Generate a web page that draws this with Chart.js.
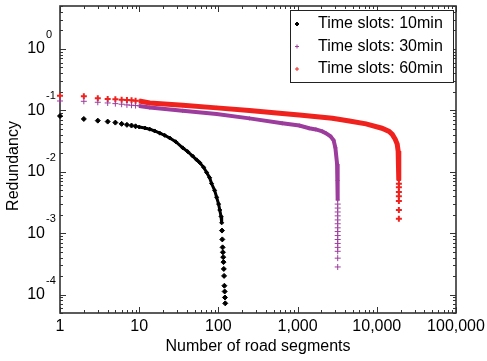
<!DOCTYPE html>
<html>
<head>
<meta charset="utf-8">
<script src="https://cdn.jsdelivr.net/npm/chart.js@4/dist/chart.umd.min.js"></script>
<style>
  body { margin: 0; background: #fff; }
  #wrap { width: 487px; height: 361px; }
</style>
</head>
<body>
<div id="wrap"><canvas id="chart" width="487" height="361"></canvas></div>
<script>
// Values: [number of road segments, redundancy]
const seriesLabels = ['Time slots: 10min', 'Time slots: 30min', 'Time slots: 60min'];

// 10min - sparse points at the start, dense curve, sparse tail
const black10Start = [[1, 0.0808], [2, 0.0723], [3, 0.0679], [4, 0.0655], [5, 0.0631],
  [6, 0.0602], [7, 0.0580], [8, 0.0565], [9, 0.0549]];
const black10Band = [[10, 0.0535], [11.8, 0.0515], [13.6, 0.0493], [15.7, 0.0461], [18.2, 0.0425],
  [21, 0.0391], [24.3, 0.0354], [28.9, 0.0308], [35.4, 0.0245], [40.9, 0.0213], [47.3, 0.018],
  [53.1, 0.0156], [58, 0.0141], [65.1, 0.0118], [71, 0.00975], [77.5, 0.008], [82, 0.00643],
  [89.6, 0.00497], [95, 0.00384], [100.6, 0.00297], [104, 0.00238], [108, 0.00187], [110, 0.00147]];
const black10Tail = [[111, 0.0011], [112, 0.00079], [113, 0.000586], [114, 0.000488], [115, 0.000406],
  [116, 0.000337], [117, 0.000261], [118, 0.000201], [119, 0.000139], [120, 0.000112],
  [121, 0.0000895], [122, 0.0000718]];

// 30min
const purple30Start = [[1, 0.1419], [2, 0.1403], [3, 0.1352], [4, 0.1318], [5, 0.1285],
  [6, 0.1257], [7, 0.1225], [8, 0.121], [9, 0.1194]];
const purple30Band = [[10, 0.118], [13.6, 0.111], [35.4, 0.0982], [95, 0.0869], [246, 0.0739],
  [640, 0.0615], [1050, 0.0565], [1400, 0.0511], [1700, 0.0488], [2050, 0.0453], [2300, 0.0421],
  [2600, 0.0377], [2850, 0.0325], [3000, 0.0245], [3150, 0.0134], [3200, 0.0072], [3210, 0.00344]];
const purple30Tail = [[3210, 0.00297], [3210, 0.00256], [3210, 0.00221], [3210, 0.00191],
  [3210, 0.00164], [3210, 0.00142], [3210, 0.00122], [3210, 0.00106], [3210, 0.000912],
  [3210, 0.000787], [3210, 0.000679], [3210, 0.000586], [3210, 0.000506], [3210, 0.000391],
  [3210, 0.000281]];

// 60min
const red60Start = [[1, 0.1725], [2, 0.1687], [3, 0.1567], [4, 0.1528], [5, 0.1511],
  [6, 0.149], [7, 0.1472], [8, 0.1456], [9, 0.1435]];
const red60Band = [[10, 0.142], [13.6, 0.132], [35.4, 0.121], [95, 0.1096], [246, 0.0993],
  [640, 0.0889], [1050, 0.0838], [2750, 0.074], [4500, 0.0672], [7300, 0.0601], [11600, 0.0511],
  [14300, 0.0453], [15700, 0.0405], [17100, 0.0337], [18100, 0.0281], [18600, 0.0217],
  [18900, 0.0169], [18950, 0.0104], [19000, 0.0072]];
const red60Tail = [[19000, 0.00636], [19000, 0.00561], [19000, 0.00467], [19000, 0.00398],
  [19000, 0.00335], [19000, 0.00238], [19000, 0.00171]];

// Axis ticks
const xTickValues = [1, 10, 100, 1000, 10000, 100000];
const xTickLabels = ['1', '10', '100', '1,000', '10,000', '100,000'];
const yTickExponents = [0, -1, -2, -3, -4];

const colors = ['#000000', '#9c3c9c', '#f0221e'];
const FONT = '"Liberation Sans", Arial, Helvetica, sans-serif';

function toXY(arr) {
    return arr.map(p => ({ x: p[0], y: p[1] }));
}

function bandSet(data, color, width, style) {
    return {
        label: '', data: toXY(data), showLine: true, borderColor: color, borderWidth: width,
        pointStyle: style, pointRadius: 2, pointBorderWidth: 1,
        pointBorderColor: color, backgroundColor: color, clip: false
    };
}

function pointSet(label, data, color, style, radius, bw) {
    return {
        label: label, data: toXY(data), showLine: false, pointStyle: style,
        pointRadius: radius, pointBorderWidth: bw, borderColor: color,
        backgroundColor: color, clip: false
    };
}

// Frame, inward ticks, tick labels and axis titles
const axesPlugin = {
    id: 'axesPlugin',
    beforeDatasetsDraw(chart) {
        const ctx = chart.ctx;
        const a = chart.chartArea;
        const xs = chart.scales.x, ys = chart.scales.y;
        ctx.save();
        ctx.strokeStyle = '#333';
        ctx.lineWidth = 1;
        // minor/major ticks, drawn inward on all four sides
        ctx.beginPath();
        for (let k = 0; k <= 5; k++) {
            for (let m = 1; m <= 9; m++) {
                const v = m * Math.pow(10, k);
                if (v < xs.min || v > xs.max) continue;
                const px = Math.round(xs.getPixelForValue(v)) + 0.5;
                const len = m === 1 ? 6 : 3;
                ctx.moveTo(px, a.bottom); ctx.lineTo(px, a.bottom - len);
                ctx.moveTo(px, a.top); ctx.lineTo(px, a.top + len);
            }
        }
        for (let k = -5; k <= 0; k++) {
            for (let m = 1; m <= 9; m++) {
                const v = m * Math.pow(10, k);
                if (v < ys.min || v > ys.max) continue;
                const py = Math.round(ys.getPixelForValue(v)) + 0.5;
                const len = m === 1 ? 6 : 3;
                ctx.moveTo(a.left, py); ctx.lineTo(a.left + len, py);
                ctx.moveTo(a.right, py); ctx.lineTo(a.right - len, py);
            }
        }
        ctx.stroke();
        ctx.lineWidth = 1.6;
        ctx.strokeRect(a.left, a.top, a.right - a.left, a.bottom - a.top);

        ctx.fillStyle = '#000';
        // x tick labels
        ctx.font = '16px ' + FONT;
        ctx.textAlign = 'center';
        ctx.textBaseline = 'middle';
        xTickValues.forEach((v, i) => {
            ctx.fillText(xTickLabels[i], xs.getPixelForValue(v), a.bottom + 14);
        });
        // y tick labels: 10 with superscript exponent
        yTickExponents.forEach(e => {
            const py = ys.getPixelForValue(Math.pow(10, e));
            ctx.font = '16px ' + FONT;
            ctx.textAlign = 'right';
            ctx.fillText('10', a.left - 15, py);
            ctx.font = '11px ' + FONT;
            ctx.textAlign = 'left';
            ctx.fillText(String(e), a.left - 14, py - 14);
        });
        // axis titles
        ctx.font = '16px ' + FONT;
        ctx.textAlign = 'center';
        ctx.fillText('Number of road segments', (a.left + a.right) / 2, a.bottom + 34);
        ctx.save();
        ctx.translate(14, 166);
        ctx.rotate(-Math.PI / 2);
        ctx.fillText('Redundancy', 0, 0);
        ctx.restore();
        ctx.restore();
    }
};

// Legend box inside the plot, top right
const legendPlugin = {
    id: 'legendBox',
    afterDatasetsDraw(chart) {
        const ctx = chart.ctx;
        const a = chart.chartArea;
        const left = 290, top = a.top + 4, w = a.right - 3 - left, h = 72;
        ctx.save();
        ctx.fillStyle = '#fff';
        ctx.fillRect(left, top, w, h);
        ctx.strokeStyle = '#222';
        ctx.lineWidth = 1;
        ctx.strokeRect(left + 0.5, top + 0.5, w, h);
        const sets = chart.data.datasets.filter(d => d.label);
        sets.forEach((d, i) => {
            const y = top + 14 + i * 22.5;
            ctx.fillStyle = d.backgroundColor;
            ctx.strokeStyle = d.borderColor;
            ctx.lineWidth = 1;
            Chart.helpers.drawPoint(ctx, { pointStyle: d.pointStyle, radius: 2, borderWidth: 1 }, left + 7, y);
            ctx.fillStyle = '#000';
            ctx.font = '16px ' + FONT;
            ctx.textAlign = 'left';
            ctx.textBaseline = 'middle';
            ctx.fillText(d.label, left + 28, y);
        });
        ctx.restore();
    }
};

new Chart(document.getElementById('chart'), {
    type: 'scatter',
    data: {
        datasets: [
            bandSet(black10Band, colors[0], 3, 'rectRot'),
            bandSet(purple30Band, colors[1], 4, 'cross'),
            bandSet(red60Band, colors[2], 5, 'cross'),
            pointSet(seriesLabels[0], black10Start.concat(black10Tail), colors[0], 'rectRot', 2.5, 1),
            pointSet(seriesLabels[1], purple30Start.concat(purple30Tail), colors[1], 'cross', 3, 1),
            pointSet(seriesLabels[2], red60Start.concat(red60Tail), colors[2], 'cross', 3, 2)
        ]
    },
    options: {
        responsive: false,
        devicePixelRatio: 1,
        animation: false,
        layout: { padding: { left: 60, right: 31, top: 3, bottom: 48 } },
        plugins: { legend: { display: false }, tooltip: { enabled: false } },
        scales: {
            x: { type: 'logarithmic', min: 1, max: 100000, display: false },
            y: { type: 'logarithmic', min: 0.00005, max: 5, display: false }
        }
    },
    plugins: [axesPlugin, legendPlugin]
});
</script>
</body>
</html>
